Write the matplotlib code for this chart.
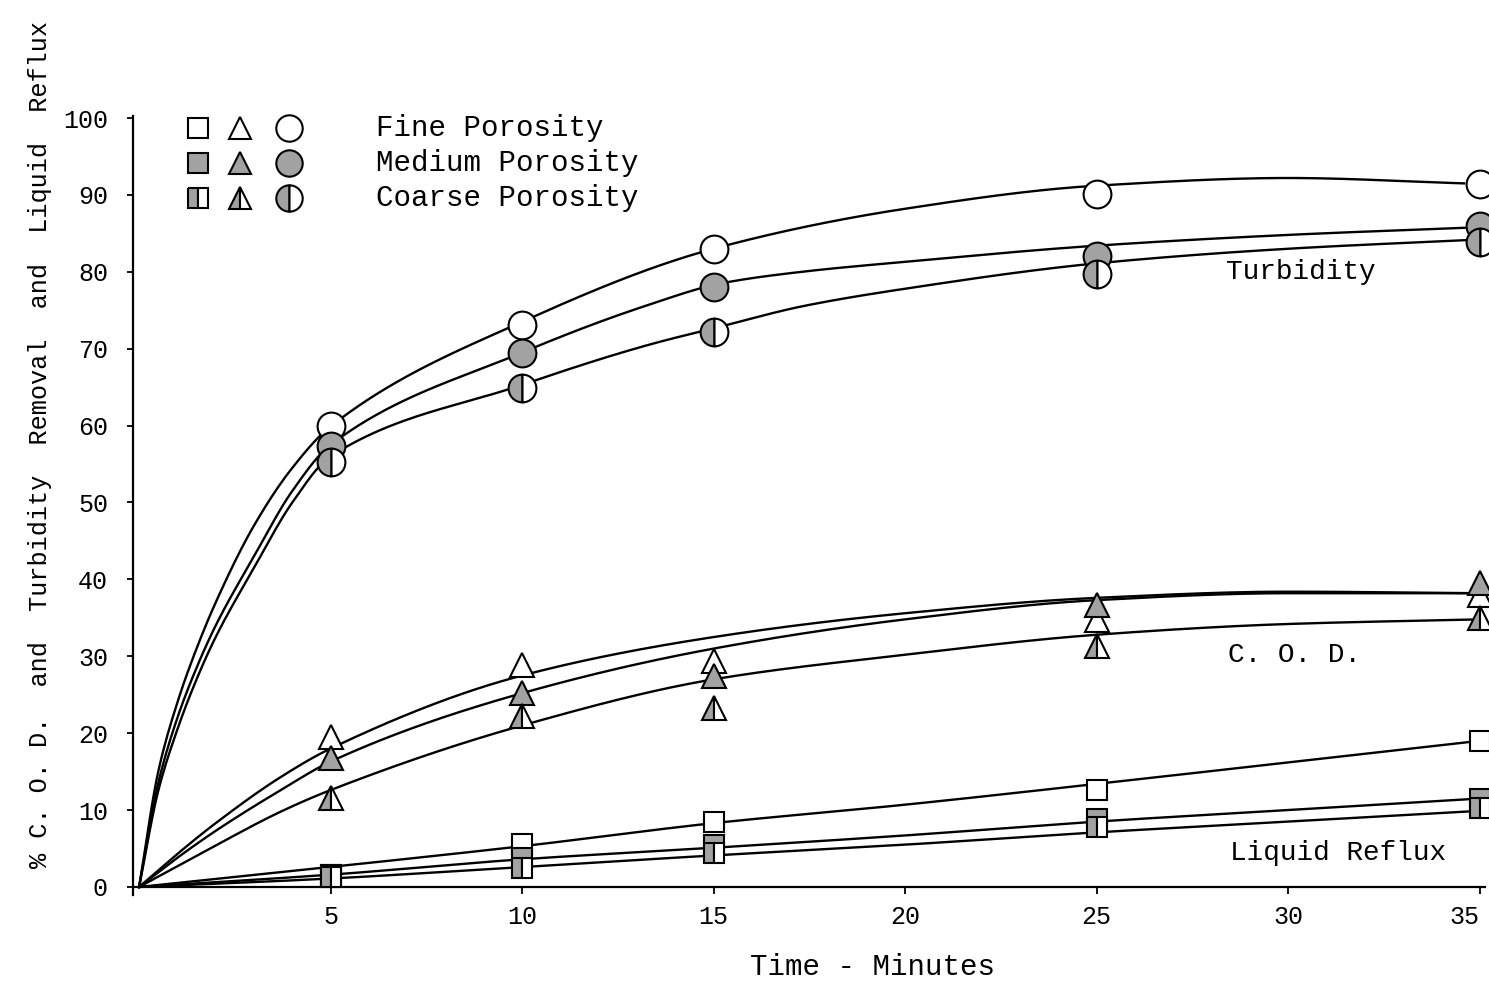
import numpy as np
import matplotlib
matplotlib.use('Agg')
import matplotlib.pyplot as plt

# ---------------- data ----------------
times = [5, 10, 15, 25, 35]

turb_fine = [60.0, 73.1, 83.0, 90.1, 91.4]
turb_medium = [57.3, 69.4, 78.0, 82.0, 86.0]
turb_coarse = [55.3, 64.9, 72.2, 79.7, 83.9]

cod_fine = [19.5, 28.9, 29.4, 34.7, 38.0]
cod_medium = [16.8, 25.2, 27.4, 36.7, 39.5]
cod_coarse = [11.6, 22.2, 23.3, 31.3, 35.0]

reflux_fine = [1.6, 5.6, 8.4, 12.6, 19.0]
reflux_medium = [1.5, 3.8, 5.4, 8.9, 11.5]
reflux_coarse = [1.3, 2.5, 4.4, 7.8, 10.3]

# hand-drawn fitted curves at a few times
turb_fine_ct = [0, 0.5, 1, 1.5, 2, 3, 4, 5, 10, 15, 20, 25, 30, 34.6]
turb_fine_cv = [0, 15.0, 24.0, 31.0, 37.0, 47.0, 54.5, 59.9, 73.5, 83.0, 88.2, 91.2, 92.2, 91.5]
turb_medium_ct = [0, 0.5, 1, 1.5, 2, 3, 4, 5, 10, 13.3, 15.2, 17.3, 20, 25, 30, 35]
turb_medium_cv = [0, 13.5, 22.0, 28.5, 34.0, 43.0, 51.5, 57.5, 69.5, 75.7, 78.5, 80.0, 81.3, 83.4, 84.8, 85.8]
turb_coarse_ct = [0, 0.5, 1, 1.5, 2, 3, 4, 5, 10, 13.3, 15.2, 17.3, 20, 25, 30, 35]
turb_coarse_cv = [0, 12.5, 20.5, 27.0, 32.5, 41.5, 50.0, 56.0, 65.3, 70.5, 72.9, 75.5, 77.8, 81.1, 83.0, 84.2]

cod_fine_ct = [0, 1, 2, 3.7, 5, 10, 15, 20, 25, 30, 35]
cod_fine_cv = [0, 4.3, 8.3, 14.3, 18, 27.5, 32.5, 35.6, 37.6, 38.4, 38.2]
cod_medium_ct = [0, 1, 2, 3.7, 5, 10, 15, 20, 25, 30, 35]
cod_medium_cv = [0, 3.8, 7.3, 12.6, 16.3, 25.2, 31.0, 34.8, 37.3, 38.2, 38.2]
cod_coarse_ct = [0, 1, 2, 3.7, 5, 10, 15, 20, 25, 30, 35]
cod_coarse_cv = [0, 2.7, 5.4, 9.8, 12.6, 21.0, 27.0, 30.2, 32.8, 34.2, 34.8]

reflux_ct = [0, 5, 10, 15, 20, 25, 30, 35]
reflux_fine_cv = [0, 2.6, 5.3, 8.3, 10.7, 13.4, 16.2, 19.0]
reflux_medium_cv = [0, 1.6, 3.6, 5.1, 6.7, 8.5, 10.0, 11.5]
reflux_coarse_cv = [0, 1.1, 2.6, 4.1, 5.5, 7.1, 8.5, 9.9]

x_ticks = [5, 10, 15, 20, 25, 30, 35]
y_ticks = [0, 10, 20, 30, 40, 50, 60, 70, 80, 90, 100]
legend_labels = ["Fine Porosity", "Medium Porosity", "Coarse Porosity"]
group_labels = ["Turbidity", "C. O. D.", "Liquid Reflux"]


def pchip(x, y, xs):
    x = np.asarray(x, float)
    y = np.asarray(y, float)
    h = np.diff(x)
    d = np.diff(y) / h
    n = len(x)
    m = np.zeros(n)
    for k in range(1, n - 1):
        if d[k - 1] * d[k] <= 0:
            m[k] = 0
        else:
            w1 = 2 * h[k] + h[k - 1]
            w2 = h[k] + 2 * h[k - 1]
            m[k] = (w1 + w2) / (w1 / d[k - 1] + w2 / d[k])
    m[0] = d[0]
    m[-1] = d[-1]
    out = np.empty_like(xs)
    for i, t in enumerate(xs):
        k = min(max(np.searchsorted(x, t) - 1, 0), n - 2)
        s = (t - x[k]) / h[k]
        h00 = 2 * s**3 - 3 * s**2 + 1
        h10 = s**3 - 2 * s**2 + s
        h01 = -2 * s**3 + 3 * s**2
        h11 = s**3 - s**2
        out[i] = h00 * y[k] + h10 * h[k] * m[k] + h01 * y[k + 1] + h11 * h[k] * m[k + 1]
    return out


MONO = ['Liberation Mono', 'DejaVu Sans Mono']
plt.rcParams['font.family'] = MONO

fig = plt.figure(figsize=(14.89, 9.84), dpi=100)
ax = fig.add_axes([0.0893, 0.0908, 0.9082, 0.7916])
ax.set_xlim(-0.16, 35.15)
ax.set_ylim(-1.0, 100.3)

GRAY = '#a2a2a2'
LW = 1.7

# curves
for ct, cv in [(turb_fine_ct, turb_fine_cv), (turb_medium_ct, turb_medium_cv),
               (turb_coarse_ct, turb_coarse_cv), (cod_fine_ct, cod_fine_cv),
               (cod_medium_ct, cod_medium_cv), (cod_coarse_ct, cod_coarse_cv),
               (reflux_ct, reflux_fine_cv), (reflux_ct, reflux_medium_cv),
               (reflux_ct, reflux_coarse_cv)]:
    xs = np.linspace(ct[0], ct[-1], 600)
    ax.plot(xs, pchip(ct, cv, xs), color='black', lw=LW, zorder=2)

styles = {
    'fine': dict(markerfacecolor='white', fillstyle='full'),
    'medium': dict(markerfacecolor=GRAY, fillstyle='full'),
    'coarse': dict(markerfacecolor=GRAY, markerfacecoloralt='white', fillstyle='left'),
}
msizes = {'o': 20, '^': 17, 's': 15}

for marker, series in [('o', [turb_fine, turb_medium, turb_coarse]),
                       ('^', [cod_fine, cod_medium, cod_coarse]),
                       ('s', [reflux_fine, reflux_medium, reflux_coarse])]:
    for vals, key in zip(series, ['fine', 'medium', 'coarse']):
        ax.plot(times, vals, linestyle='none', marker=marker, markersize=msizes[marker],
                markeredgecolor='black', markeredgewidth=1.5, zorder=3, clip_on=False,
                **styles[key])

# legend (hand-made like original)
leg_x = [0.048, 0.0792, 0.1155]
leg_y = [0.984, 0.939, 0.894]
for row, key in enumerate(['fine', 'medium', 'coarse']):
    for col, marker in enumerate(['s', '^', 'o']):
        ax.plot([leg_x[col]], [leg_y[row]], transform=ax.transAxes, linestyle='none',
                marker=marker, markersize=msizes[marker] - 1, markeredgecolor='black',
                markeredgewidth=1.5, clip_on=False, **styles[key])
    ax.text(0.1798, leg_y[row], legend_labels[row], transform=ax.transAxes,
            ha='left', va='center', fontsize=21)

for lab, (gx, gy) in zip(group_labels, [(0.808, 0.799), (0.810, 0.308), (0.811, 0.0535)]):
    ax.text(gx, gy, lab, transform=ax.transAxes, ha='left', va='center', fontsize=20)

# axes styling
for s in ['top', 'right']:
    ax.spines[s].set_visible(False)
ax.spines['bottom'].set_position(('data', 0))
ax.spines['bottom'].set_linewidth(1.6)
ax.spines['left'].set_linewidth(1.6)
ax.set_xticks(x_ticks)
ax.set_yticks(y_ticks)
ax.tick_params(axis='x', direction='out', length=5, width=1.3, pad=8, labelsize=18)
ax.tick_params(axis='y', direction='out', length=4, width=1.3, pad=14, labelsize=18)
ax.get_xticklabels()[-1].set_horizontalalignment('right')

fig.text(872 / 1489, 1 - 967 / 984, "Time - Minutes", ha='center', va='center', fontsize=21)
fig.text(40 / 1489, 1 - 445 / 984, "% C. O. D.  and  Turbidity  Removal  and  Liquid  Reflux",
         ha='center', va='center', rotation=90, fontsize=18.2)

fig.savefig('out.png', dpi=100)
